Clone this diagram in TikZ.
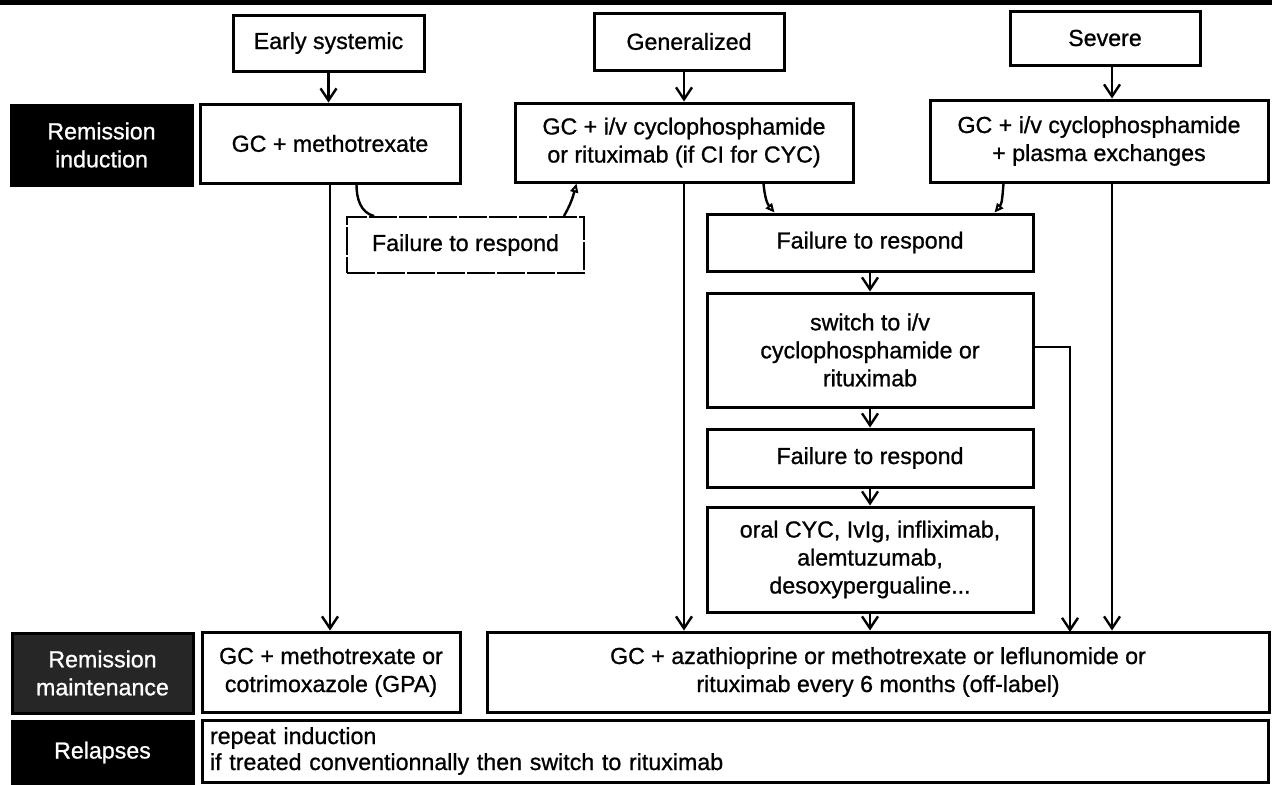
\documentclass[tikz,border=0pt]{standalone}
\usepackage{fontspec}
\setmainfont{Liberation Sans}[FakeBold=0.9]
\usetikzlibrary{arrows.meta,calc}

\begin{document}
\begin{tikzpicture}[
    x=0.5pt, y=-0.5pt,
    >={Straight Barb[length=6pt,width=8pt,line width=1.2pt]},
    font=\fontsize{11.6}{14}\selectfont,
    box/.style={
        draw,
        line width=1.5pt,
        align=center,
        inner sep=0pt
    },
    lbl/.style={box, fill=black, text=white, minimum width=90.5pt},
    dimbox/.style={box, line width=0.9pt, dash pattern=on 14pt off 1pt},
    link/.style={line width=1.2pt},
    curved/.style={link, -{Triangle[open,length=4.5pt,width=4pt,line width=1pt]}}
]
\useasboundingbox (0,0) rectangle (1272,784);
\fill (0,0) rectangle (1272,5);

% forms
\node[box, minimum width=95.5pt, minimum height=28pt] (early) at (328.5,43)  {Early systemic};
\node[box, minimum width=95pt,   minimum height=28.5pt] (gen) at (689,41.5) {Generalized};
\node[box, minimum width=95pt,   minimum height=27pt] (sev)   at (1105,38)   {Severe};

% induction
\node[lbl, minimum height=40pt] (ind) at (101.5,145) {Remission\\induction};
\node[box, minimum width=130pt, minimum height=39.5pt] (meth) at (330,143.5) {GC + methotrexate};
\node[box, minimum width=169pt, minimum height=39.5pt] (gcyc) at (684,142.5)
    {GC + i/v cyclophosphamide\\or rituximab (if CI for CYC)};
\node[box, minimum width=169pt, minimum height=41pt] (scyc) at (1099,141)
    {GC + i/v cyclophosphamide\\+ plasma exchanges};

% failures
\node[dimbox, minimum width=118.5pt, minimum height=28pt] (fail1) at (465.5,245) {Failure to respond};
\node[box, minimum width=163pt, minimum height=28.5pt] (fail2) at (870,242.5) {Failure to respond};
\node[box, minimum width=163pt, minimum height=57pt] (swap) at (870,350)
    {switch to i/v\\cyclophosphamide or\\rituximab};
\node[box, minimum width=163pt, minimum height=29pt] (fail3) at (870,458) {Failure to respond};
\node[box, minimum width=163pt, minimum height=52.5pt] (other) at (870,559.5)
    {oral CYC, IvIg, infliximab,\\alemtuzumab,\\desoxypergualine...};

% maintenance
\node[lbl, fill=black!85, minimum height=40pt] (maint) at (102.5,673) {Remission\\maintenance};
\node[box, minimum width=129pt, minimum height=40pt] (mmeth) at (331,672)
    {GC + methotrexate or\\cotrimoxazole (GPA)};
\node[box, minimum width=391pt, minimum height=40pt] (mrest) at (878,672)
    {GC + azathioprine or methotrexate or leflunomide or\\rituximab every 6 months (off-label)};

% relapses
\node[lbl, minimum height=31.5pt] (rel) at (102.5,752.5) {Relapses};
\node[box, minimum width=533pt, minimum height=31pt, text width=525pt, inner xsep=4pt,
      align=left, font=\fontsize{11.6}{13}\selectfont] (rtext) at (735,751)
    {repeat induction\\if treated conventionnally then switch to rituximab};

\coordinate (sdown) at ($(scyc.south)+(13,0)$);
\coordinate (drop) at (1070,632);

% arrows
\draw[->, link] (early.south) -- (early.south |- meth.north);
\draw[->, link] (gcyc.north |- gen.south) -- (gcyc.north);
\draw[->, link] (sev.south -| sdown) -- (sdown |- scyc.north);
\draw[->, link] (meth.south) -- (meth.south |- mmeth.north);
\draw[->, link] (gcyc.south) -- (gcyc.south |- mrest.north);
\draw[->, link] (sdown) -- (sdown |- mrest.north);
\draw[->, link] (fail2) -- (swap);
\draw[->, link] (swap) -- (fail3);
\draw[->, link] (fail3) -- (other);
\draw[->, link] (other.south) -- (other.south |- mrest.north);
\draw[->, link] ($(swap.east)+(0,-3)$) -| (drop);

% curved
\draw[link] ($(meth.south west)+(158,0)$) to[out=-90,in=165] ($(fail1.north west)+(28,0)$);
\draw[curved] ($(fail1.north east)+(-21,0)$) to[out=60,in=-105] ($(gcyc.south west)+(63,0)$);
\draw[curved] ($(gcyc.south east)+(-91,0)$) to[out=-85,in=130] ($(fail2.north west)+(69,0)$);
\draw[curved] ($(scyc.south west)+(75,0)$) to[out=-95,in=50] ($(fail2.north east)+(-40,0)$);

\end{tikzpicture}
\end{document}
